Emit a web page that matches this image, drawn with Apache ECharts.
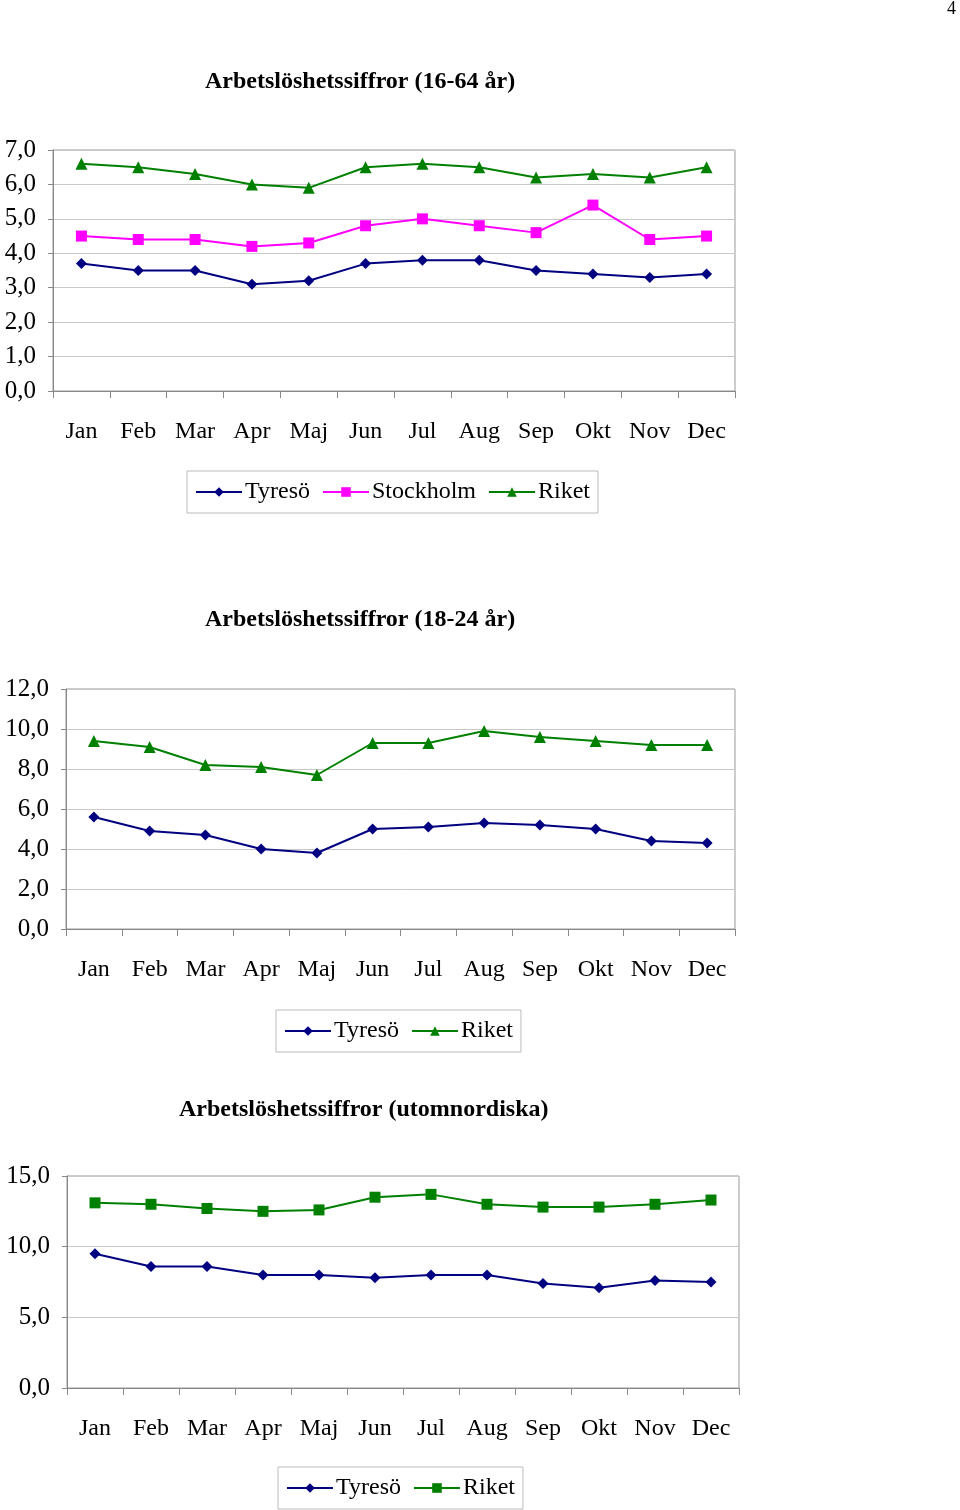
<!DOCTYPE html>
<html>
<head>
<meta charset="utf-8">
<script src="https://cdn.jsdelivr.net/npm/echarts@6/dist/echarts.min.js"></script>
<style>
  html, body { margin: 0; padding: 0; background: #fff; }
  #main { width: 960px; height: 1510px; }
</style>
</head>
<body>
<div id="main"></div>
<script>
const months = ['Jan', 'Feb', 'Mar', 'Apr', 'Maj', 'Jun', 'Jul', 'Aug', 'Sep', 'Okt', 'Nov', 'Dec']

// 16-64 år
const tyreso1 = [3.7, 3.5, 3.5, 3.1, 3.2, 3.7, 3.8, 3.8, 3.5, 3.4, 3.3, 3.4]
const stockholm1 = [4.5, 4.4, 4.4, 4.2, 4.3, 4.8, 5.0, 4.8, 4.6, 5.4, 4.4, 4.5]
const riket1 = [6.6, 6.5, 6.3, 6.0, 5.9, 6.5, 6.6, 6.5, 6.2, 6.3, 6.2, 6.5]

// 18-24 år
const tyreso2 = [5.6, 4.9, 4.7, 4.0, 3.8, 5.0, 5.1, 5.3, 5.2, 5.0, 4.4, 4.3]
const riket2 = [9.4, 9.1, 8.2, 8.1, 7.7, 9.3, 9.3, 9.9, 9.6, 9.4, 9.2, 9.2]

// utomnordiska
const tyreso3 = [9.5, 8.6, 8.6, 8.0, 8.0, 7.8, 8.0, 8.0, 7.4, 7.1, 7.6, 7.5]
const riket3 = [13.1, 13.0, 12.7, 12.5, 12.6, 13.5, 13.7, 13.0, 12.8, 12.8, 13.0, 13.3]

const titles = ['Arbetslöshetssiffror (16-64 år)', 'Arbetslöshetssiffror (18-24 år)', 'Arbetslöshetssiffror (utomnordiska)']

const font = 'Liberation Serif, Times New Roman, serif'
const navy = '#000080'
const pink = '#ff00ff'
const green = '#008000'

const grids = [
  { left: 53, top: 150, width: 682, height: 241 },
  { left: 66, top: 689, width: 669, height: 240 },
  { left: 67, top: 1176, width: 672, height: 212 },
]
const yRange = [
  { max: 7, interval: 1 },
  { max: 12, interval: 2 },
  { max: 15, interval: 5 },
]

const fmt = v => v.toFixed(1).replace('.', ',')

const line = (name, data, idx, color, symbol) => ({
  name: name,
  type: 'line',
  xAxisIndex: idx,
  yAxisIndex: idx,
  data: data,
  symbol: symbol,
  symbolSize: symbol === 'triangle' ? 12 : 11,
  itemStyle: { color: color },
  lineStyle: { color: color, width: 2 },
  emphasis: { disabled: true },
})

const option = {
  animation: false,
  backgroundColor: '#fff',
  title: [
    { text: titles[0], left: 200, top: 65 },
    { text: titles[1], left: 200, top: 603 },
    { text: titles[2], left: 174, top: 1093 },
  ].map(t => Object.assign(t, { textStyle: { fontFamily: font, fontSize: 24, fontWeight: 'bold', color: '#000' } })),
  grid: grids.map(g => Object.assign({ show: true, borderColor: '#999', borderWidth: 1 }, g)),
  xAxis: grids.map((g, i) => ({
    type: 'category',
    gridIndex: i,
    data: months,
    boundaryGap: true,
    axisLine: { lineStyle: { color: '#888' } },
    axisTick: { show: true, length: 7, lineStyle: { color: '#888' } },
    axisLabel: { fontFamily: font, fontSize: 24, color: '#000', margin: 29 },
  })),
  yAxis: yRange.map((r, i) => ({
    type: 'value',
    gridIndex: i,
    min: 0,
    max: r.max,
    interval: r.interval,
    axisLine: { show: true, lineStyle: { color: '#888' } },
    axisTick: { show: true, length: 5, lineStyle: { color: '#888' } },
    splitLine: { lineStyle: { color: '#c8c8c8' } },
    axisLabel: { fontFamily: font, fontSize: 25, color: '#000', margin: 17, formatter: fmt },
  })),
  legend: [
    { data: ['Tyresö', 'Stockholm', 'Riket'], left: 187, top: 471, itemGap: 12 },
    { data: ['Tyresö ', 'Riket '], left: 276, top: 1010, itemGap: 12 },
    { data: ['Tyresö  ', 'Riket  '], left: 278, top: 1467, itemGap: 12 },
  ].map(l => Object.assign(l, {
    show: true,
    orient: 'horizontal',
    borderColor: '#bbb',
    borderWidth: 1,
    padding: [9, 8, 9, 8],
    itemWidth: 46,
    itemHeight: 12,
    formatter: name => name.trim(),
    textStyle: { fontFamily: font, fontSize: 24, color: '#000', padding: [0, 0, 0, -2] },
  })),
  graphic: [
    { type: 'text', left: 947, top: 0, style: { text: '4', font: '18px ' + font, fill: '#000' } },
  ],
  series: [
    line('Tyresö', tyreso1, 0, navy, 'diamond'),
    line('Stockholm', stockholm1, 0, pink, 'rect'),
    line('Riket', riket1, 0, green, 'triangle'),
    line('Tyresö ', tyreso2, 1, navy, 'diamond'),
    line('Riket ', riket2, 1, green, 'triangle'),
    line('Tyresö  ', tyreso3, 2, navy, 'diamond'),
    line('Riket  ', riket3, 2, green, 'rect'),
  ],
}

const chart = echarts.init(document.getElementById('main'))
chart.setOption(option)
window.addEventListener('resize', function () {
  chart.resize()
})
</script>
</body>
</html>
